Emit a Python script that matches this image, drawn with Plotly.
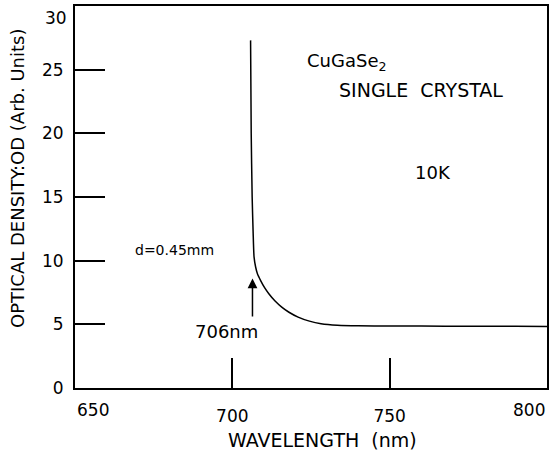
import plotly.graph_objects as go

# Data
wavelength_nm = [705.8, 706.0, 706.3, 706.6, 706.9, 707.4, 708.0, 709.0, 710.2,
                 711.6, 713.5, 715.7, 718.0, 720.9, 724.5, 728.2, 733.4, 740.0,
                 750.0, 760.0, 775.0, 790.0, 800.0]
optical_density = [27.3, 20.0, 15.0, 12.3, 10.3, 9.5, 8.95, 8.44, 7.9,
                   7.4, 6.85, 6.35, 5.95, 5.57, 5.25, 5.05, 4.93, 4.88,
                   4.87, 4.86, 4.85, 4.84, 4.83]

x_tick_vals = [650, 700, 750, 800]
y_tick_vals = [0, 5, 10, 15, 20, 25, 30]

arrow_wavelength = 706.4
arrow_tail_od = 5.5
arrow_head_od = 8.6

FONT = "DejaVu Sans"

fig = go.Figure()
fig.add_trace(go.Scatter(x=wavelength_nm, y=optical_density, mode="lines",
                         line=dict(color="black", width=1.5, shape="spline",
                                   smoothing=0.6),
                         showlegend=False, hoverinfo="skip"))

inner_x = x_tick_vals[1:-1]
axis_y = y_tick_vals[:-1]

fig.update_xaxes(range=[x_tick_vals[0], x_tick_vals[-1]], tickvals=inner_x,
                 ticktext=[str(v) for v in inner_x],
                 ticks="inside", ticklen=30, tickwidth=2, tickcolor="black",
                 showline=True, linewidth=2, linecolor="black", mirror=True,
                 showgrid=False, zeroline=False, ticklabelstandoff=12,
                 ticklabeloverflow="allow", automargin=False,
                 tickfont=dict(family=FONT, size=17, color="black"))
fig.update_yaxes(range=[y_tick_vals[0], y_tick_vals[-1]], tickvals=axis_y,
                 ticktext=[str(v) for v in axis_y],
                 ticks="inside", ticklen=30, tickwidth=2, tickcolor="black",
                 showline=True, linewidth=2, linecolor="black", mirror=True,
                 showgrid=False, zeroline=False, ticklabelstandoff=6,
                 ticklabeloverflow="allow", automargin=False,
                 tickfont=dict(family=FONT, size=17, color="black"))

annotations = []
# end tick labels, kept inside the frame as in the reference
annotations.append(dict(x=x_tick_vals[0], y=-0.0576, xref="x", yref="paper",
                        text=str(x_tick_vals[0]), showarrow=False,
                        xanchor="left", yanchor="middle",
                        font=dict(family=FONT, size=17, color="black")))
annotations.append(dict(x=x_tick_vals[-1], y=-0.0576, xref="x", yref="paper",
                        text=str(x_tick_vals[-1]), showarrow=False,
                        xanchor="right", yanchor="middle",
                        font=dict(family=FONT, size=17, color="black")))
annotations.append(dict(x=0, y=y_tick_vals[-1], xref="paper", yref="y",
                        text=str(y_tick_vals[-1]), showarrow=False,
                        xanchor="right", yanchor="top", xshift=-6,
                        font=dict(family=FONT, size=17, color="black")))
# axis titles
annotations.append(dict(x=0.5244, y=-0.136, xref="paper", yref="paper",
                        text="WAVELENGTH&nbsp;&nbsp;(nm)", showarrow=False,
                        xanchor="center", yanchor="middle",
                        font=dict(family=FONT, size=19, color="black")))
annotations.append(dict(x=-0.1229, y=0.5497, xref="paper", yref="paper",
                        text="OPTICAL DENSITY:OD (Arb. Units)", showarrow=False,
                        textangle=-90, xanchor="center", yanchor="middle",
                        font=dict(family=FONT, size=18, color="black")))
# in-plot labels
annotations.append(dict(x=736.4, y=25.6, text="CuGaSe<sub>2</sub>", showarrow=False,
                        xanchor="center", yanchor="middle",
                        font=dict(family=FONT, size=18, color="black")))
annotations.append(dict(x=759.8, y=23.4, text="SINGLE&nbsp;&nbsp;CRYSTAL", showarrow=False,
                        xanchor="center", yanchor="middle",
                        font=dict(family=FONT, size=19, color="black")))
annotations.append(dict(x=763.8, y=16.96, text="10K", showarrow=False,
                        xanchor="center", yanchor="middle",
                        font=dict(family=FONT, size=18, color="black")))
annotations.append(dict(x=681.5, y=10.84, text="d=0.45mm", showarrow=False,
                        xanchor="center", yanchor="middle",
                        font=dict(family=FONT, size=14, color="black")))
annotations.append(dict(x=698.0, y=4.42, text="706nm", showarrow=False,
                        xanchor="center", yanchor="middle",
                        font=dict(family=FONT, size=18, color="black")))
# arrow
annotations.append(dict(x=arrow_wavelength, y=arrow_head_od,
                        ax=arrow_wavelength, ay=arrow_tail_od,
                        xref="x", yref="y", axref="x", ayref="y",
                        text="", showarrow=True, arrowhead=2, arrowsize=1.3,
                        arrowwidth=1.5, arrowcolor="black", standoff=0,
                        startstandoff=0))

fig.update_layout(width=549, height=456,
                  margin=dict(l=75, r=2, t=6, b=68),
                  paper_bgcolor="white", plot_bgcolor="white",
                  font=dict(family=FONT, color="black"),
                  annotations=annotations, showlegend=False)

fig.write_html("out.html")
